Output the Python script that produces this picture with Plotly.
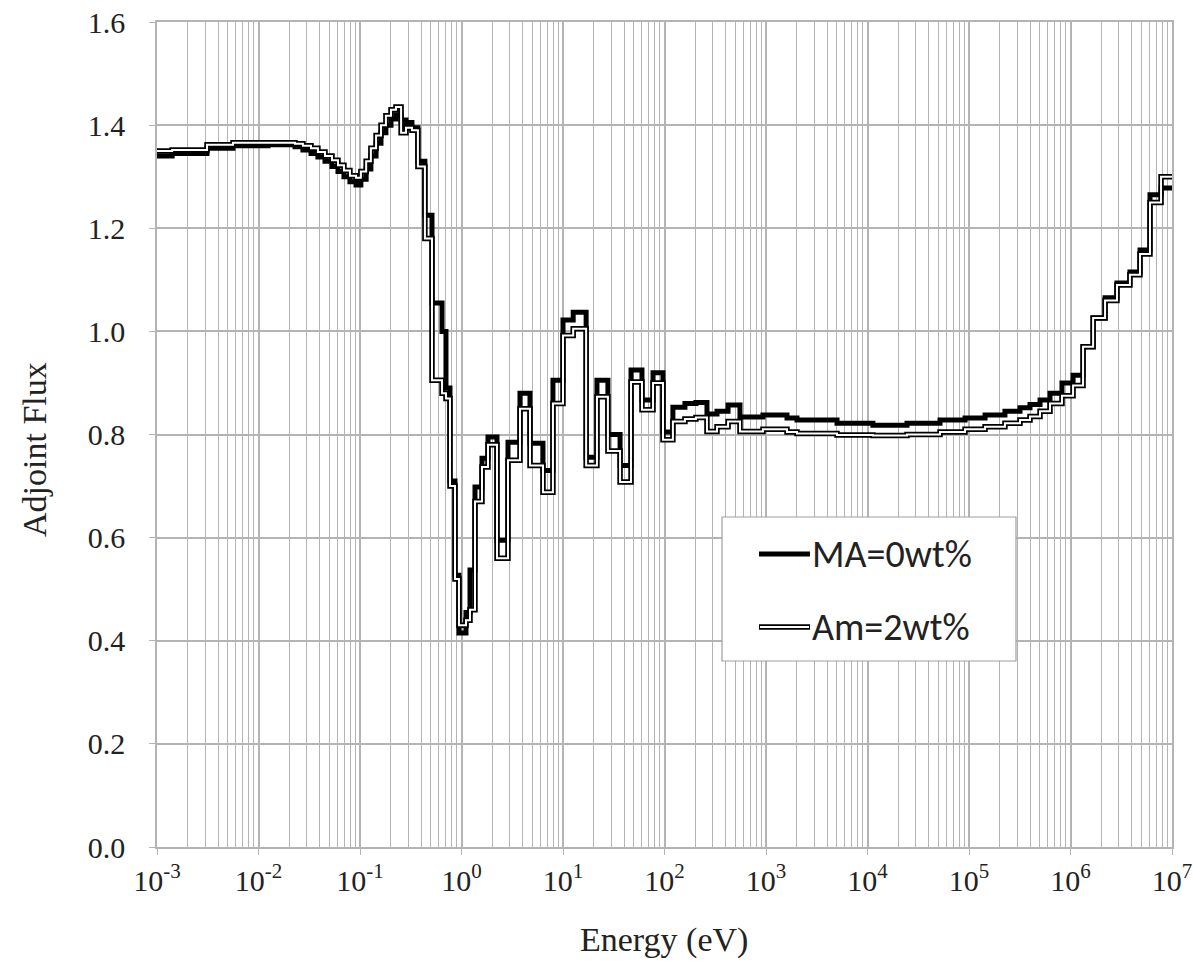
import plotly.graph_objects as go

# Group lower energy boundaries (eV); last entry is the upper bound of the final group
energy_bounds = [
    1.0e-3, 1.41e-3, 3.11e-3, 5.61e-3, 1.24e-2, 2.29e-2, 2.74e-2, 3.29e-2, 3.85e-2, 4.52e-2,
    5.30e-2, 6.07e-2, 6.95e-2, 7.96e-2, 9.14e-2, 0.102, 0.115, 0.128, 0.144, 0.161,
    0.180, 0.202, 0.226, 0.254, 0.284, 0.325, 0.372, 0.436, 0.512, 0.643,
    0.703, 0.770, 0.863, 0.944, 1.107, 1.213, 1.358, 1.592, 1.824, 2.237,
    2.871, 3.768, 4.73, 6.35, 7.96, 10.0, 12.6, 16.9, 21.6, 27.7,
    36.5, 46.8, 60.0, 77.1, 96.6, 121, 159, 204, 262, 329,
    423, 554, 933, 1610, 2020, 5010, 11300, 24500, 51800, 91400,
    1.44e5, 2.26e5, 3.18e5, 3.99e5, 5.01e5, 6.28e5, 8.24e5, 1.06e6, 1.33e6, 1.67e6,
    2.19e6, 2.87e6, 3.85e6, 4.84e6, 6.07e6, 7.80e6, 1.0e7,
]

flux_ma0 = [
    1.340, 1.345, 1.355, 1.360, 1.362, 1.358, 1.352, 1.345, 1.338, 1.330,
    1.320, 1.310, 1.300, 1.290, 1.284, 1.295, 1.315, 1.340, 1.365, 1.385,
    1.400, 1.412, 1.420, 1.410, 1.405, 1.395, 1.330, 1.225, 1.055, 1.000,
    0.890, 0.710, 0.527, 0.415, 0.455, 0.537, 0.698, 0.754, 0.795, 0.595,
    0.785, 0.880, 0.783, 0.730, 0.905, 1.022, 1.037, 0.756, 0.905, 0.800,
    0.740, 0.925, 0.867, 0.920, 0.805, 0.853, 0.860, 0.862, 0.840, 0.845,
    0.857, 0.834, 0.838, 0.832, 0.828, 0.822, 0.818, 0.822, 0.828, 0.832,
    0.838, 0.845, 0.852, 0.858, 0.867, 0.880, 0.900, 0.915, 0.970, 1.026,
    1.065, 1.094, 1.115, 1.158, 1.265, 1.278,
]

flux_am2 = [
    1.350, 1.352, 1.362, 1.366, 1.366, 1.364, 1.360, 1.355, 1.348, 1.340,
    1.332, 1.322, 1.312, 1.302, 1.298, 1.310, 1.330, 1.355, 1.380, 1.400,
    1.418, 1.430, 1.435, 1.385, 1.395, 1.390, 1.320, 1.180, 0.905, 0.880,
    0.870, 0.700, 0.520, 0.430, 0.440, 0.460, 0.670, 0.737, 0.780, 0.560,
    0.750, 0.850, 0.740, 0.688, 0.860, 0.992, 1.005, 0.740, 0.873, 0.768,
    0.708, 0.902, 0.848, 0.900, 0.790, 0.825, 0.830, 0.833, 0.806, 0.815,
    0.825, 0.806, 0.810, 0.805, 0.802, 0.799, 0.798, 0.800, 0.805, 0.810,
    0.815, 0.822, 0.828, 0.835, 0.845, 0.860, 0.875, 0.895, 0.970, 1.026,
    1.060, 1.090, 1.110, 1.150, 1.250, 1.300,
]

x_tick_vals = [1e-3, 1e-2, 1e-1, 1e0, 1e1, 1e2, 1e3, 1e4, 1e5, 1e6, 1e7]
x_tick_text = ["10<sup>-3</sup>", "10<sup>-2</sup>", "10<sup>-1</sup>", "10<sup>0</sup>",
               "10<sup>1</sup>", "10<sup>2</sup>", "10<sup>3</sup>", "10<sup>4</sup>",
               "10<sup>5</sup>", "10<sup>6</sup>", "10<sup>7</sup>"]
y_tick_vals = [0.0, 0.2, 0.4, 0.6, 0.8, 1.0, 1.2, 1.4, 1.6]

series_names = ["MA=0wt%", "Am=2wt%"]
x_title = "Energy (eV)"
y_title = "Adjoint Flux"

ma_y = flux_ma0 + [flux_ma0[-1]]
am_y = flux_am2 + [flux_am2[-1]]

fig = go.Figure()
fig.add_trace(go.Scatter(x=energy_bounds, y=ma_y, mode="lines", line_shape="hv",
                         line=dict(color="black", width=5), name=series_names[0],
                         showlegend=False))
fig.add_trace(go.Scatter(x=energy_bounds, y=am_y, mode="lines", line_shape="hv",
                         line=dict(color="black", width=5.5), name=series_names[1],
                         showlegend=False))
fig.add_trace(go.Scatter(x=energy_bounds, y=am_y, mode="lines", line_shape="hv",
                         line=dict(color="white", width=2), name=series_names[1],
                         showlegend=False))

grid_col = "#b4b4b4"
serif = "Liberation Serif, Times New Roman, serif"
sans = "Carlito, Liberation Sans, Arial"

fig.update_xaxes(type="log", range=[-3, 7], tickvals=x_tick_vals, ticktext=x_tick_text,
                 automargin=False,
                 showgrid=True, gridcolor=grid_col, gridwidth=1.5,
                 minor=dict(showgrid=True, gridcolor=grid_col, gridwidth=1.2,
                            ticks="", dtick="D1"),
                 showline=True, linecolor=grid_col, linewidth=1.5, mirror=True,
                 ticks="outside", ticklen=6, tickcolor=grid_col,
                 tickfont=dict(family=serif, size=30, color="#222"),
                 zeroline=False)
fig.update_yaxes(range=[0, 1.6], tickvals=y_tick_vals, tickformat=".1f",
                 automargin=False,
                 showgrid=True, gridcolor=grid_col, gridwidth=1.5,
                 showline=True, linecolor=grid_col, linewidth=1.5, mirror=True,
                 ticks="outside", ticklen=6, tickcolor=grid_col,
                 ticklabelstandoff=18,
                 tickfont=dict(family=serif, size=30, color="#222"),
                 zeroline=False)

W, H = 1193, 961
L, R, T, B = 157, 21, 22, 114
pw, ph = W - L - R, H - T - B
def px(x):
    return (x - L) / pw
def py(y):
    return 1 - (y - T) / ph

shapes = [
    dict(type="rect", xref="paper", yref="paper", x0=px(722), x1=px(1016), y0=py(661), y1=py(517),
         line=dict(color="#a0a0a0", width=1.2), fillcolor="white", layer="above"),
    dict(type="line", xref="paper", yref="paper", x0=px(759), x1=px(810), y0=py(554), y1=py(554),
         line=dict(color="black", width=5), layer="above"),
    dict(type="line", xref="paper", yref="paper", x0=px(759), x1=px(810), y0=py(627), y1=py(627),
         line=dict(color="black", width=5.5), layer="above"),
    dict(type="line", xref="paper", yref="paper", x0=px(760), x1=px(809), y0=py(627), y1=py(627),
         line=dict(color="white", width=2), layer="above"),
]
annotations = [
    dict(xref="paper", yref="paper", x=px(810), y=py(554), text=series_names[0], showarrow=False,
         xanchor="left", yanchor="middle", font=dict(family=sans, size=38, color="#222")),
    dict(xref="paper", yref="paper", x=px(810), y=py(627), text=series_names[1], showarrow=False,
         xanchor="left", yanchor="middle", font=dict(family=sans, size=38, color="#222")),
    dict(xref="paper", yref="paper", x=px(664), y=py(940), text=x_title, showarrow=False,
         xanchor="center", yanchor="middle", font=dict(family=serif, size=34, color="#222")),
    dict(xref="paper", yref="paper", x=px(34), y=py(450), text=y_title, showarrow=False,
         textangle=-90, xanchor="center", yanchor="middle",
         font=dict(family=serif, size=34, color="#222")),
]

fig.update_layout(width=W, height=H, margin=dict(l=L, r=R, t=T, b=B, autoexpand=False),
                  paper_bgcolor="white", plot_bgcolor="white",
                  shapes=shapes, annotations=annotations, showlegend=False)

fig.write_html("out.html")
